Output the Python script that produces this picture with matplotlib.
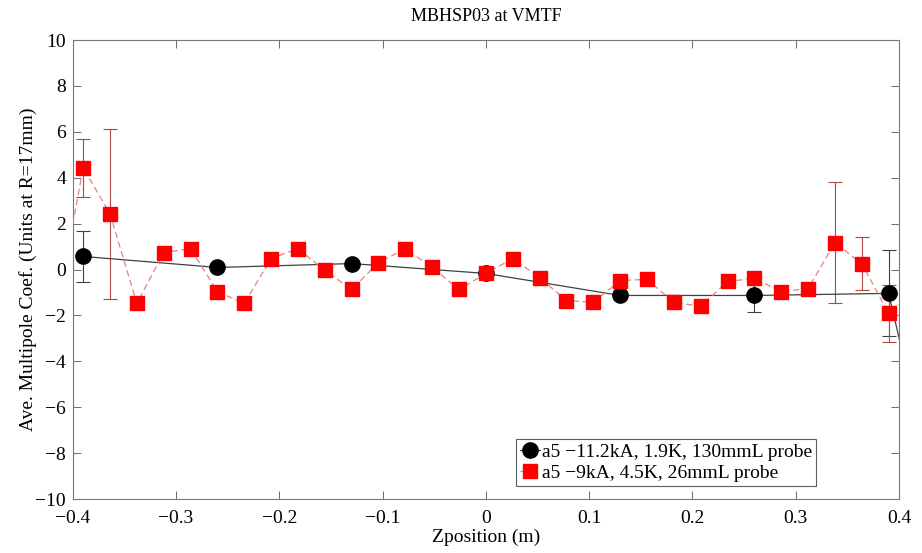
import matplotlib
matplotlib.use("Agg")
import matplotlib.pyplot as plt

plt.rcParams['font.family'] = ['Liberation Serif', 'DejaVu Serif']

# Black series: a5 -11.2kA, 1.9K, 130mmL probe
black_x = [-0.39, -0.26, -0.13, 0.0, 0.13, 0.26, 0.39, 0.52]
black_y = [0.57, 0.09, 0.26, -0.17, -1.13, -1.13, -1.04, -26.0]
black_err = [1.1, 0.0, 0.0, 0.0, 0.0, 0.74, 1.87, 0.0]

# Red series: a5 -9kA, 4.5K, 26mmL probe
red_x = [-0.416, -0.390, -0.364, -0.338, -0.312, -0.286, -0.260, -0.234, -0.208,
         -0.182, -0.156, -0.130, -0.104, -0.078, -0.052, -0.026, 0.0, 0.026,
         0.052, 0.078, 0.104, 0.130, 0.156, 0.182, 0.208, 0.234, 0.260, 0.286,
         0.312, 0.338, 0.364, 0.390]
red_y = [-1.9, 4.43, 2.43, -1.48, 0.74, 0.91, -0.96, -1.48, 0.48,
         0.91, -0.04, -0.87, 0.30, 0.91, 0.09, -0.87, -0.17, 0.48,
         -0.35, -1.35, -1.43, -0.48, -0.43, -1.43, -1.60, -0.52, -0.39, -0.96,
         -0.83, 1.17, 0.26, -1.91]
red_err = [0.0, 1.25, 3.7, 0.0, 0.0, 0.0, 0.0, 0.0, 0.0,
           0.0, 0.0, 0.0, 0.0, 0.0, 0.0, 0.0, 0.0, 0.0,
           0.0, 0.0, 0.0, 0.0, 0.0, 0.0, 0.0, 0.0, 0.0, 0.0,
           0.0, 2.63, 1.15, 1.25]

labels = ["a5 \u221211.2kA, 1.9K, 130mmL probe", "a5 \u22129kA, 4.5K, 26mmL probe"]

fig = plt.figure(figsize=(9.22, 5.53), dpi=100)
ax = fig.add_axes([0.079, 0.0976, 0.896, 0.830])

# error bars (only where nonzero)
bx = [x for x, e in zip(black_x, black_err) if e > 0]
by = [y for y, e in zip(black_y, black_err) if e > 0]
be = [e for e in black_err if e > 0]
ax.errorbar(bx, by, yerr=be, fmt='none', ecolor='#404040', elinewidth=0.8,
            capsize=5, capthick=0.8, zorder=2)
rx = [x for x, e in zip(red_x, red_err) if e > 0]
ry = [y for y, e in zip(red_y, red_err) if e > 0]
re = [e for e in red_err if e > 0]
ax.errorbar(rx, ry, yerr=re, fmt='none', ecolor='#b04848', elinewidth=0.8,
            capsize=5, capthick=0.8, zorder=2)

ax.plot(black_x, black_y, color='#404040', linewidth=0.9, marker='o',
        markersize=11, markerfacecolor='black', markeredgecolor='black',
        label=labels[0], zorder=3)
ax.plot(red_x, red_y, color='#e58080', linewidth=0.9, linestyle=(0, (5, 3)),
        marker='s', markersize=10, markerfacecolor='red', markeredgecolor='red',
        label=labels[1], zorder=4)

ax.set_xlim(-0.4, 0.4)
ax.set_ylim(-10, 10)
ax.set_xticks([-0.4, -0.3, -0.2, -0.1, 0, 0.1, 0.2, 0.3, 0.4])
ax.set_xticklabels(['\u22120.4', '\u22120.3', '\u22120.2', '\u22120.1', '0',
                    '0.1', '0.2', '0.3', '0.4'])
ax.set_yticks(range(-10, 11, 2))
ax.set_yticklabels([('\u2212' + str(-v)) if v < 0 else str(v) for v in range(-10, 11, 2)])
ax.tick_params(direction='in', length=6, width=0.6, labelsize=14, color='#555555',
               top=True, right=True)
ax.tick_params(axis='x', pad=8)
ax.tick_params(axis='y', pad=5)
for s in ax.spines.values():
    s.set_color('#777777')
    s.set_linewidth(0.8)

ax.set_title('MBHSP03 at VMTF', fontsize=13, pad=14)
ax.set_xlabel('Zposition (m)', fontsize=14, labelpad=1)
ax.set_ylabel('Ave. Multipole Coef. (Units at R=17mm)', fontsize=14, labelpad=-1)

leg = ax.legend(loc='lower right', bbox_to_anchor=(0.904, 0.02), fontsize=14,
                frameon=True, fancybox=False, handlelength=1.0, handletextpad=0.1,
                borderpad=0.2, labelspacing=0.2, borderaxespad=0.2)
leg.get_frame().set_edgecolor('#333333')
leg.get_frame().set_linewidth(0.8)

fig.savefig('out.png', dpi=100)
